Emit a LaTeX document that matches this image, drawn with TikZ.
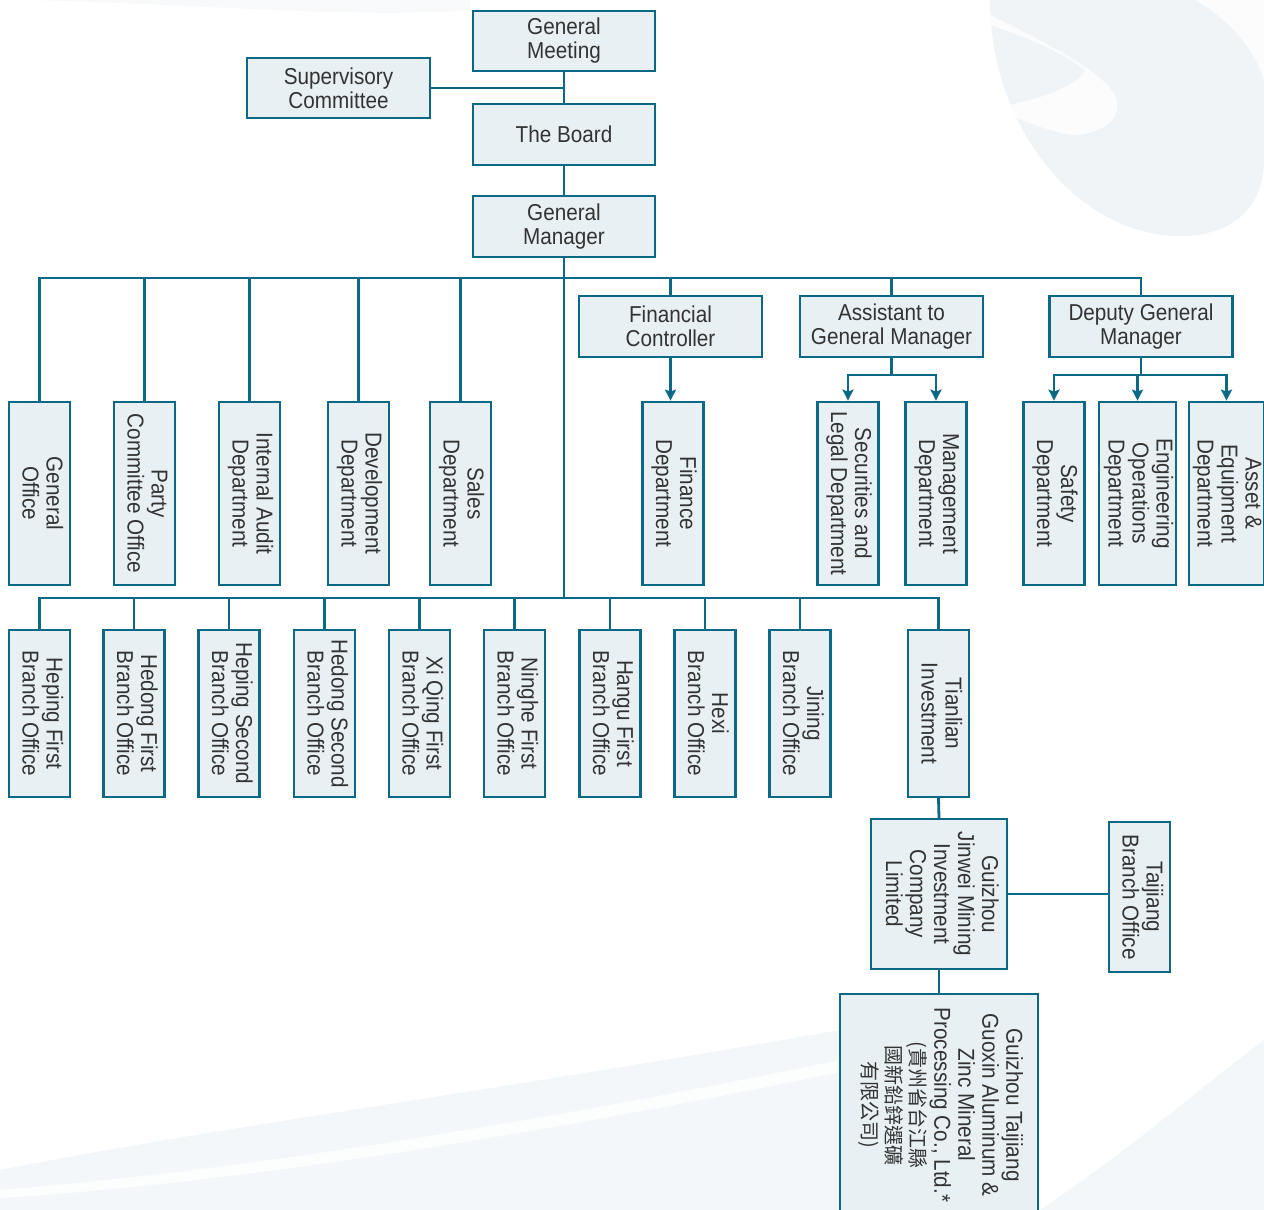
\documentclass[tikz,border=0pt]{standalone}
\usepackage{fontspec}
\usepackage{graphicx}
\setmainfont[FakeStretch=0.9]{Liberation Sans}
\newfontfamily\cjkfont{Noto Sans CJK TC}
\usetikzlibrary{arrows.meta}
\definecolor{lncol}{HTML}{0B6986}
\definecolor{boxfill}{HTML}{E9F0F4}
\definecolor{txcol}{HTML}{333333}
\definecolor{swoosh}{HTML}{F0F4F7}
\definecolor{swooshb}{HTML}{F4F7F9}
\newcommand\vtxt[1]{\rotatebox{-90}{\begin{tabular}{@{}c@{}}#1\end{tabular}}}
\begin{document}
\begin{tikzpicture}[x=1pt,y=-1pt,
  orgbox/.style={draw=lncol, line width=2.8pt, fill=boxfill, inner sep=0pt, text=txcol,
    font=\fontsize{23}{24}\selectfont, align=center},
  conn/.style={draw=lncol, line width=2.8pt, line cap=rect},
  arr/.style={draw=lncol, line width=2.8pt, -{Stealth[length=11pt,width=11pt,inset=2pt]}}]
\useasboundingbox (0,0) rectangle (1264,1210);
\fill[white] (0,0) rectangle (1264,1210);
% faint background swooshes
\begin{scope}
\clip (0,0) rectangle (1264,1210);
\fill[swoosh] (990,0) .. controls (990,130) and (1080,236) .. (1180,236) .. controls (1240,236) and (1264,200) .. (1264,160) -- (1264,0) -- cycle;
\fill[white, opacity=0.8] (990,15) .. controls (1050,45) and (1100,70) .. (1115,95) .. controls (1125,120) and (1100,135) .. (1070,135) .. controls (1045,130) and (1015,118) .. (995,108) .. controls (1040,100) and (1080,85) .. (1085,70) .. controls (1060,50) and (1020,35) .. (990,25) -- cycle;
\fill[white, opacity=0.8] (1195,0) .. controls (1230,20) and (1255,50) .. (1264,80) -- (1264,0) -- cycle;
\fill[swooshb] (0,1170) .. controls (200,1130) and (500,1090) .. (840,1030) -- (840,1210) -- (0,1210) -- cycle;
\fill[white, opacity=0.8] (0,1190) .. controls (250,1170) and (550,1120) .. (840,1060) -- (840,1072) .. controls (550,1132) and (250,1182) .. (0,1198) -- cycle;
\fill[swooshb] (1040,1210) .. controls (1130,1150) and (1210,1080) .. (1264,1040) -- (1264,1210) -- cycle;
\fill[swooshb, opacity=0.7] (0,0) .. controls (150,0) and (350,20) .. (470,10) -- (470,0) -- cycle;
\end{scope}

% top chain
\node[orgbox, minimum width=182, minimum height=60] (gmeet) at (564,41) {General\\Meeting};
\node[orgbox, minimum width=183, minimum height=60] (sup) at (338.5,88) {Supervisory\\Committee};
\node[orgbox, minimum width=182, minimum height=61] (board) at (564,134.5) {The Board};
\node[orgbox, minimum width=182, minimum height=61] (mgr) at (564,226.5) {General\\Manager};

\node[orgbox, minimum width=183, minimum height=61] (fc) at (670.5,326.5) {Financial\\Controller};
\node[orgbox, minimum width=183, minimum height=61] (asst) at (891.5,326.5) {Assistant to\\General Manager};
\node[orgbox, minimum width=183, minimum height=61] (dep) at (1141,326.5) {Deputy General\\Manager};

% department row
\begin{scope}[every node/.append style={minimum height=183}]
\node[orgbox, minimum width=61] (go) at (39.5,493.5) {\vtxt{General\\Office}};
\node[orgbox, minimum width=61] (pco) at (144.5,493.5) {\vtxt{Party\\Committee Office}};
\node[orgbox, minimum width=61] (ia) at (249.5,493.5) {\vtxt{Internal Audit\\Department}};
\node[orgbox, minimum width=61] (dev) at (358.5,493.5) {\vtxt{Development\\Department}};
\node[orgbox, minimum width=61] (sales) at (460.5,493.5) {\vtxt{Sales\\Department}};
\node[orgbox, minimum width=61] (fin) at (673,493.5) {\vtxt{Finance\\Department}};
\node[orgbox, minimum width=61] (sec) at (848,493.5) {\vtxt{Securities and\\Legal Department}};
\node[orgbox, minimum width=61] (mgt) at (936,493.5) {\vtxt{Management\\Department}};
\node[orgbox, minimum width=61] (saf) at (1054,493.5) {\vtxt{Safety\\Department}};
\node[orgbox, minimum width=77] (eng) at (1137.5,493.5) {\vtxt{Engineering\\Operations\\Department}};
\node[orgbox, minimum width=75] (ast) at (1226.5,493.5) {\vtxt{Asset \&\\Equipment\\Department}};
\end{scope}

% branch row
\begin{scope}[every node/.append style={minimum height=167, minimum width=61}]
\node[orgbox] (hp1) at (39.5,713.5) {\vtxt{Heping First\\Branch Office}};
\node[orgbox] (hd1) at (134,713.5) {\vtxt{Hedong First\\Branch Office}};
\node[orgbox] (hp2) at (229,713.5) {\vtxt{Heping Second\\Branch Office}};
\node[orgbox] (hd2) at (324.5,713.5) {\vtxt{Hedong Second\\Branch Office}};
\node[orgbox] (xq) at (419.5,713.5) {\vtxt{Xi Qing First\\Branch Office}};
\node[orgbox] (nh) at (514.5,713.5) {\vtxt{Ninghe First\\Branch Office}};
\node[orgbox] (hg) at (610,713.5) {\vtxt{Hangu First\\Branch Office}};
\node[orgbox] (hx) at (705,713.5) {\vtxt{Hexi\\Branch Office}};
\node[orgbox] (jn) at (800,713.5) {\vtxt{Jining\\Branch Office}};
\node[orgbox] (tl) at (938.5,713.5) {\vtxt{Tianlian\\Investment}};
\end{scope}

\node[orgbox, minimum width=136, minimum height=150] (jw) at (939,894) {\vtxt{Guizhou\\Jinwei Mining\\Investment\\Company\\Limited}};
\node[orgbox, minimum width=61, minimum height=150] (tj) at (1139.5,897) {\vtxt{Taijiang\\Branch Office}};
\node[orgbox, minimum width=198, minimum height=222] (gt) at (939,1105) {\vtxt{Guizhou Taijiang\\Guoxin Aluminum \&\\Zinc Mineral\\Processing Co., Ltd.*\\{\cjkfont\fontsize{20}{22}\selectfont (貴州省台江縣}\\{\cjkfont\fontsize{20}{22}\selectfont 國新鉛鋅選礦}\\{\cjkfont\fontsize{20}{22}\selectfont 有限公司)}}};

% bus coordinates
\coordinate (tbus) at (0,278);
\coordinate (lbus) at (0,598);
\coordinate (aj) at (891.5,375);
\coordinate (dj) at (1141,375);

% connectors: top chain
\draw[conn] (gmeet.south) -- (board.north);
\draw[conn] (sup.east) -- (sup.east -| board.north);
\draw[conn] (board.south) -- (mgr.north);
\draw[conn] (mgr.south) -- (mgr.south |- lbus);

% upper bus and drops
\draw[conn] (go.north |- tbus) -- (dep.north |- tbus);
\foreach \n in {go,pco,ia,dev,sales,fc,asst,dep}
  \draw[conn] (\n.north |- tbus) -- (\n.north);

% arrows below managers
\draw[arr] (fc.south) -- (fc.south |- fin.north);
\draw[conn] (asst.south) -- (aj);
\draw[conn] (aj -| sec.north) -- (aj -| mgt.north);
\draw[arr] (aj -| sec.north) -- (sec.north);
\draw[arr] (aj -| mgt.north) -- (mgt.north);
\draw[conn] (dep.south) -- (dj);
\draw[conn] (dj -| saf.north) -- (dj -| ast.north);
\draw[arr] (dj -| saf.north) -- (saf.north);
\draw[arr] (dj -| eng.north) -- (eng.north);
\draw[arr] (dj -| ast.north) -- (ast.north);

% lower bus and drops
\draw[conn] (hp1.north |- lbus) -- (tl.north |- lbus);
\foreach \n in {hp1,hd1,hp2,hd2,xq,nh,hg,hx,jn,tl}
  \draw[conn] (\n.north |- lbus) -- (\n.north);

% subsidiaries
\draw[conn] (tl.south) -- (jw.north);
\draw[conn] (jw.east) -- (jw.east -| tj.west);
\draw[conn] (jw.south) -- (gt.north);
\end{tikzpicture}
\end{document}
